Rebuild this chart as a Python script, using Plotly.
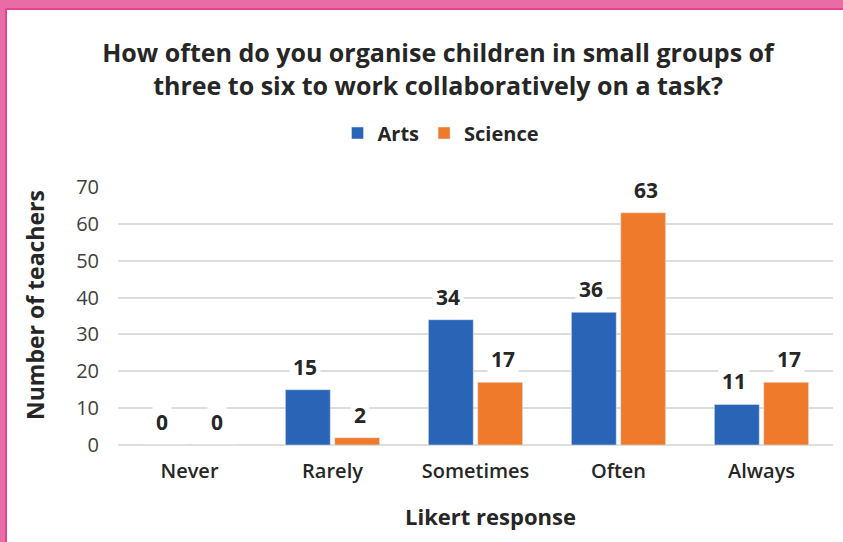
import plotly.graph_objects as go

# Survey responses
categories = ["Never", "Rarely", "Sometimes", "Often", "Always"]
arts = [0, 15, 34, 36, 11]
science = [0, 2, 17, 63, 17]
y_ticks = [0, 10, 20, 30, 40, 50, 60, 70]

W, H = 843, 542
ML, MR, MT, MB = 118, 10, 187, 97
PW, PH = W - ML - MR, H - MT - MB

BLUE = "#2A64B6"
ORANGE = "#EF7A2C"
TXT = "#262626"
FONT = "Open Sans"


def px_x(px):
    return (px - ML) / PW


def px_y(py):
    return (H - MB - py) / PH


fig = go.Figure()
fig.add_bar(name="<b>Arts</b>", x=categories, y=arts, marker_color=BLUE)
fig.add_bar(name="<b>Science</b>", x=categories, y=science, marker_color=ORANGE)

# Value labels on white boxes above each bar
annotations = []
for i, cat in enumerate(categories):
    for val, off in ((arts[i], -0.19), (science[i], 0.19)):
        annotations.append(dict(
            x=i + off, y=val, xref="x", yref="y", text=f"<b>{val}</b>",
            showarrow=False, yanchor="middle", yshift=23,
            font=dict(family=FONT, size=21, color=TXT),
            bgcolor="white", borderpad=3,
        ))

# Axis titles
annotations.append(dict(
    x=px_x(490), y=px_y(516), xref="paper", yref="paper",
    xanchor="center", yanchor="middle",
    text="<b>Likert response</b>", showarrow=False,
    font=dict(family=FONT, size=22, color=TXT),
))
annotations.append(dict(
    x=px_x(35), y=px_y(305), xref="paper", yref="paper",
    xanchor="center", yanchor="middle",
    text="<b>Number of teachers</b>", showarrow=False, textangle=-90,
    font=dict(family=FONT, size=23, color=TXT),
))

# Pink frame along the top and left edges
pink = "#E96CA6"
pink_dark = "#E5448F"
shapes = [
    dict(type="rect", xref="paper", yref="paper", layer="above",
         x0=px_x(0), x1=px_x(W), y0=px_y(8), y1=px_y(0),
         fillcolor=pink, line_width=0),
    dict(type="rect", xref="paper", yref="paper", layer="above",
         x0=px_x(0), x1=px_x(5), y0=px_y(H), y1=px_y(0),
         fillcolor=pink, line_width=0),
    dict(type="rect", xref="paper", yref="paper", layer="above",
         x0=px_x(5), x1=px_x(W), y0=px_y(10), y1=px_y(8),
         fillcolor=pink_dark, line_width=0),
    dict(type="rect", xref="paper", yref="paper", layer="above",
         x0=px_x(5), x1=px_x(7), y0=px_y(H), y1=px_y(8),
         fillcolor=pink_dark, line_width=0),
]

fig.update_layout(
    width=W, height=H,
    margin=dict(l=ML, r=MR, t=MT, b=MB, autoexpand=False),
    paper_bgcolor="white", plot_bgcolor="white",
    barmode="group", bargap=0.31, bargroupgap=0.09,
    title=dict(
        text="<b>How often do you organise children in small groups of<br>"
             "three to six to work collaboratively on a task?</b>",
        x=438 / W, xanchor="center", y=1 - 62 / H, yanchor="middle",
        font=dict(family=FONT, size=25, color=TXT),
    ),
    legend=dict(
        orientation="h", x=px_x(441), xanchor="center",
        y=px_y(133), yanchor="middle",
        font=dict(family=FONT, size=20, color=TXT),
        traceorder="normal",
    ),
    annotations=annotations,
    shapes=shapes,
    showlegend=True,
)

fig.update_xaxes(
    showgrid=False, showline=False, zeroline=False,
    ticks="outside", ticklen=8, tickcolor="rgba(0,0,0,0)",
    tickfont=dict(family=FONT, size=20, color=TXT, weight=600),
)
fig.update_yaxes(
    range=[0, 70], tickvals=y_ticks,
    showgrid=True, gridcolor="#DDDDDD", gridwidth=1.5,
    zeroline=True, zerolinecolor="#DDDDDD", zerolinewidth=1.5,
    showline=False,
    ticks="outside", ticklen=14, tickcolor="rgba(0,0,0,0)",
    tickfont=dict(family=FONT, size=20, color="#404040"),
)

fig.write_html("out.html")
